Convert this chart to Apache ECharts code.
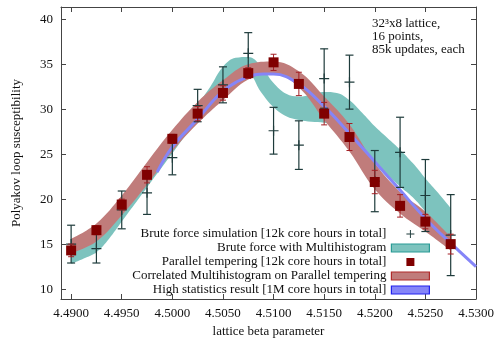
<!DOCTYPE html>
<html>
<head>
<meta charset="utf-8">
<script src="https://cdn.jsdelivr.net/npm/echarts@6.0.0/dist/echarts.min.js"></script>
<style>
html, body { margin: 0; padding: 0; background: #fff; }
#chart { width: 498px; height: 341px; }
</style>
</head>
<body>
<div id="chart"></div>
<script>
// the 16 simulated beta points
var betas = [4.4900, 4.4925, 4.4950, 4.4975, 4.5000, 4.5025, 4.5050, 4.5075,
             4.5100, 4.5125, 4.5150, 4.5175, 4.5200, 4.5225, 4.5250, 4.5275];

// brute force simulation (crosses)
var bruteValues = [15.0, 14.5, 18.8, 20.7, 24.6, 30.4, 32.7, 36.2,
                   27.6, 26.0, 33.4, 33.0, 22.0, 25.2, 20.4, 16.0];
var bruteErrors = [2.1, 1.6, 2.1, 2.4, 1.9, 1.8, 2.0, 2.3,
                   2.6, 2.7, 3.3, 3.0, 3.4, 3.9, 4.0, 4.5];

// parallel tempering (squares)
var ptValues = [14.3, 16.55, 19.4, 22.7, 26.7, 29.5, 31.8, 34.0,
                35.2, 32.8, 29.5, 26.9, 21.9, 19.25, 17.5, 15.0];
var ptErrors = [0.7, 0.5, 0.6, 0.9, 0.5, 0.8, 0.8, 0.6,
                0.9, 1.3, 1.25, 1.5, 1.3, 1.25, 0.8, 1.1];

// correlated multihistogram on parallel tempering (red band)
var corrLow  = [14.0, 15.3, 18.2, 21.6, 25.3, 28.4, 31.0, 33.3,
                34.0, 32.4, 28.8, 25.3, 21.1, 18.4, 16.4, 14.3];
var corrHigh = [15.6, 17.3, 20.4, 24.1, 27.7, 30.8, 33.2, 35.0,
                35.3, 34.2, 31.4, 28.3, 24.0, 20.8, 18.6, 15.8];

// brute force with multihistogram (teal band), half step grid
var mhBetas = [4.49000, 4.49125, 4.49250, 4.49375, 4.49500, 4.49625, 4.49750, 4.49875,
               4.50000, 4.50125, 4.50250, 4.50375, 4.50500, 4.50625, 4.50750, 4.50875,
               4.51000, 4.51125, 4.51250, 4.51375, 4.51500, 4.51625, 4.51750, 4.51875,
               4.52000, 4.52125, 4.52250, 4.52375, 4.52500, 4.52625, 4.52750];
var mhLow  = [12.8, 13.4, 14.1, 15.6, 17.5, 19.4, 21.3, 23.2,
              25.1, 27.0, 28.6, 30.4, 32.7, 34.0, 33.9, 31.9,
              30.2, 29.2, 28.8, 28.6, 28.5, 28.2, 27.3, 25.7,
              24.3, 22.7, 21.4, 20.2, 18.6, 16.7, 14.8];
var mhHigh = [14.9, 15.6, 16.3, 17.8, 19.6, 21.5, 23.4, 25.3,
              27.2, 29.1, 30.6, 32.5, 34.7, 35.7, 35.8, 34.8,
              32.9, 31.7, 31.4, 31.6, 31.9, 31.8, 31.0, 29.6,
              28.1, 26.8, 25.5, 24.0, 22.3, 20.7, 19.0];

// high statistics result (blue curve)
var hiBetas  = [4.4985, 4.5000, 4.5025, 4.5050, 4.5075, 4.5090, 4.5100, 4.5125,
                4.5150, 4.5175, 4.5200, 4.5225, 4.5250, 4.5275, 4.5300];
var hiValues = [23.0, 25.8, 28.9, 32.0, 33.6, 33.9, 33.9, 32.8,
                30.3, 27.3, 24.15, 21.0, 17.85, 15.1, 12.5];

var xTicks = [4.490, 4.495, 4.500, 4.505, 4.510, 4.515, 4.520, 4.525, 4.530];
var yTicks = [10, 15, 20, 25, 30, 35, 40];

var names = {
    brute: 'Brute force simulation [12k core hours in total]',
    mh: 'Brute force with Multihistogram',
    pt: 'Parallel tempering [12k core hours in total]',
    corr: 'Correlated Multihistogram on Parallel tempering',
    hi: 'High statistics result [1M core hours in total]'
};

var serif = 'Liberation Serif, Times New Roman, serif';
var frame = '#444';
var plusPath = 'path://M4.4,0H5.6V4.4H10V5.6H5.6V10H4.4V5.6H0V4.4H4.4Z';
var squarePath = 'path://M0,0H10V10H0Z';

function pairs(xs, ys) {
    return xs.map(function (x, i) { return [x, ys[i]]; });
}

// filled band = invisible lower line + stacked thickness with area.
// value goes in dimension 0 so the stack lands on y, not on beta.
function band(name, stackId, xs, lo, hi, fill, z) {
    return [{
        type: 'line', name: stackId + '-base', stack: stackId, z: z,
        data: xs.map(function (x, i) { return [lo[i], x]; }),
        encode: { x: 1, y: 0 },
        symbol: 'none', smooth: 0.4, silent: true,
        lineStyle: { opacity: 0 }
    }, {
        type: 'line', name: name, stack: stackId, z: z,
        data: xs.map(function (x, i) { return [hi[i] - lo[i], x]; }),
        encode: { x: 1, y: 0 },
        symbol: 'none', smooth: 0.4, silent: true,
        itemStyle: { color: fill },
        lineStyle: { opacity: 0 },
        areaStyle: { color: fill, opacity: 1 }
    }];
}

function errorBars(id, xs, vals, errs, color, cap, width, z) {
    return {
        type: 'custom', name: id, z: z, silent: true,
        data: xs.map(function (x, i) { return [x, vals[i], errs[i]]; }),
        encode: { x: 0, y: 1 },
        renderItem: function (params, api) {
            var x = api.value(0), y = api.value(1), e = api.value(2);
            var top = api.coord([x, y + e]);
            var bot = api.coord([x, y - e]);
            var style = { stroke: color, lineWidth: width };
            return {
                type: 'group',
                children: [
                    { type: 'line', shape: { x1: top[0], y1: top[1], x2: bot[0], y2: bot[1] }, style: style },
                    { type: 'line', shape: { x1: top[0] - cap, y1: top[1], x2: top[0] + cap, y2: top[1] }, style: style },
                    { type: 'line', shape: { x1: bot[0] - cap, y1: bot[1], x2: bot[0] + cap, y2: bot[1] }, style: style }
                ]
            };
        }
    };
}

var series = []
    .concat(band(names.mh, 'mh', mhBetas, mhLow, mhHigh, '#7dc3be', 1))
    .concat(band(names.corr, 'corr', betas, corrLow, corrHigh, '#c07c7b', 2))
    .concat([{
        type: 'line', name: names.hi, z: 3, silent: true,
        data: pairs(hiBetas, hiValues), symbol: 'none', smooth: 0.4,
        itemStyle: { color: '#8585f8' },
        lineStyle: { color: '#8585f8', width: 3 }
    },
    errorBars('bruteErr', betas, bruteValues, bruteErrors, '#1e3b3b', 4, 1.2, 4),
    {
        type: 'scatter', name: names.brute, z: 5, silent: true,
        data: pairs(betas, bruteValues),
        symbol: plusPath, symbolSize: 10, symbolKeepAspect: true,
        itemStyle: { color: '#1e3b3b', opacity: 1 }
    },
    errorBars('ptErr', betas, ptValues, ptErrors, '#a31f24', 3, 1, 6),
    {
        type: 'scatter', name: names.pt, z: 7, silent: true,
        data: pairs(betas, ptValues),
        symbol: squarePath, symbolSize: 10, symbolKeepAspect: true,
        itemStyle: { color: '#800000', opacity: 1 }
    }]);

var chart = echarts.init(document.getElementById('chart'), null, { renderer: 'canvas' });

chart.setOption({
    animation: false,
    backgroundColor: '#fff',
    grid: { left: 61, right: 22, top: 7, bottom: 42, containLabel: false, outerBoundsMode: 'none' },
    xAxis: [{
        type: 'value', position: 'bottom', min: 4.489, max: 4.530,
        name: 'lattice beta parameter', nameLocation: 'middle', nameGap: 25,
        nameTextStyle: { fontFamily: serif, fontSize: 13, color: '#111' },
        axisLine: { lineStyle: { color: frame, width: 1 } },
        axisTick: { inside: true, length: 5, customValues: xTicks, lineStyle: { color: frame } },
        axisLabel: {
            customValues: xTicks, margin: 8,
            fontFamily: serif, fontSize: 13, color: '#111',
            formatter: function (v) { return v.toFixed(4); }
        },
        splitLine: { show: false }
    }, {
        type: 'value', position: 'top', min: 4.489, max: 4.530,
        axisLine: { lineStyle: { color: frame, width: 1 } },
        axisTick: { inside: true, length: 5, customValues: xTicks, lineStyle: { color: frame } },
        axisLabel: { show: false },
        splitLine: { show: false }
    }],
    yAxis: [{
        type: 'value', position: 'left', min: 8.9, max: 41.35,
        name: 'Polyakov loop susceptibility', nameLocation: 'middle', nameGap: 38,
        nameTextStyle: { fontFamily: serif, fontSize: 13, color: '#111' },
        axisLine: { show: true, lineStyle: { color: frame, width: 1 } },
        axisTick: { show: true, inside: true, length: 5, customValues: yTicks, lineStyle: { color: frame } },
        axisLabel: { customValues: yTicks, margin: 8, fontFamily: serif, fontSize: 13, color: '#111' },
        splitLine: { show: false }
    }, {
        type: 'value', position: 'right', min: 8.9, max: 41.35,
        axisLine: { show: true, lineStyle: { color: frame, width: 1 } },
        axisTick: { show: true, inside: true, length: 5, customValues: yTicks, lineStyle: { color: frame } },
        axisLabel: { show: false },
        splitLine: { show: false }
    }],
    legend: {
        orient: 'vertical', align: 'right', right: 68, top: 227,
        itemWidth: 38, itemHeight: 8, itemGap: 0,
        selectedMode: false, padding: 0,
        textStyle: { fontFamily: serif, fontSize: 13, color: '#111', lineHeight: 14 },
        data: [
            { name: names.brute, icon: plusPath, itemStyle: { color: '#1e3b3b', borderWidth: 0 } },
            { name: names.mh, icon: 'rect', itemStyle: { color: '#7dc3be', borderColor: '#2a9b95', borderWidth: 1.2 } },
            { name: names.pt, icon: squarePath, itemStyle: { color: '#800000', borderWidth: 0 } },
            { name: names.corr, icon: 'rect', itemStyle: { color: '#c07c7b', borderColor: '#b02a2a', borderWidth: 1.2 } },
            { name: names.hi, icon: 'rect', itemStyle: { color: '#8585f8', borderColor: '#2222ee', borderWidth: 1.2 } }
        ]
    },
    graphic: [{
        type: 'text', left: 372, top: 17,
        style: {
            text: '32³x8 lattice,\n16 points,\n85k updates, each',
            font: '13px ' + serif, fill: '#111', lineHeight: 13
        }
    }],
    series: series
});
</script>
</body>
</html>
